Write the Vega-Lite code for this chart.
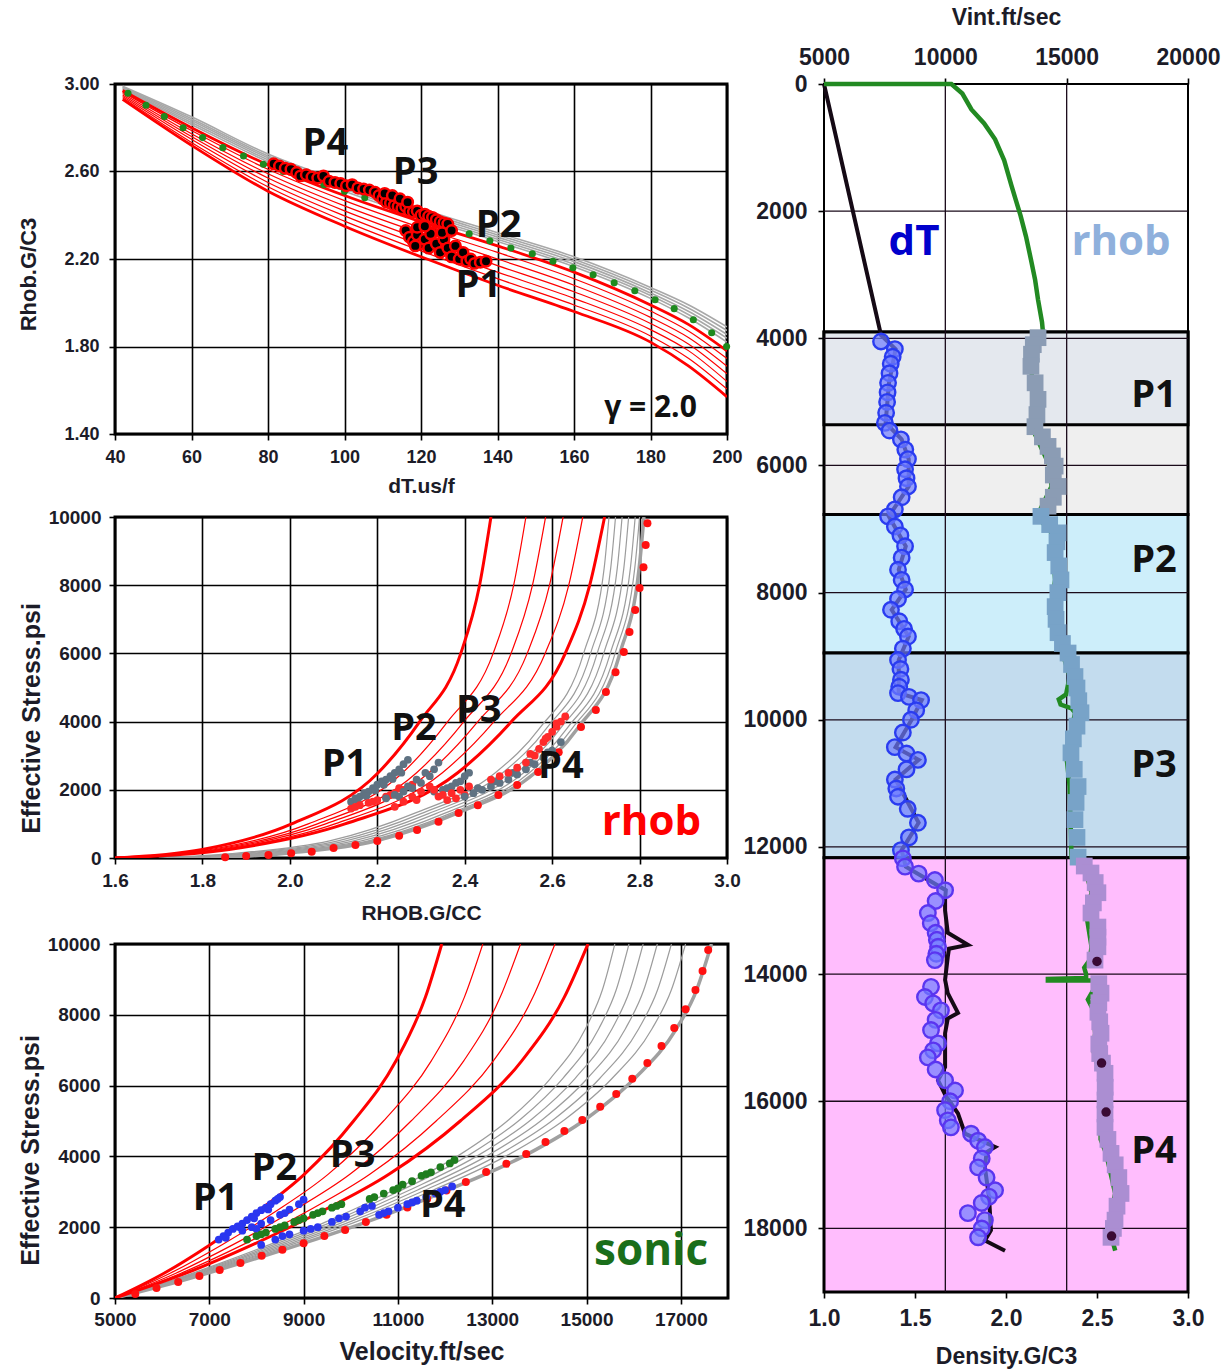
{
"$schema": "https://vega.github.io/schema/vega-lite/v6.json",
"background": "white",
"padding": {"left": 15, "top": 5, "right": 2, "bottom": 5},
"datasets": {
"p1_curves": [
{"c":"R0","k":"rt","dt":42,"rho":2.93},{"c":"R0","k":"rt","dt":60,"rho":2.72},{"c":"R0","k":"rt","dt":80,"rho":2.51},{"c":"R0","k":"rt","dt":100,"rho":2.35},{"c":"R0","k":"rt","dt":120,"rho":2.21},{"c":"R0","k":"rt","dt":140,"rho":2.08},{"c":"R0","k":"rt","dt":160,"rho":1.96},{"c":"R0","k":"rt","dt":180,"rho":1.82},{"c":"R0","k":"rt","dt":190,"rho":1.71},{"c":"R0","k":"rt","dt":200,"rho":1.57},
{"c":"R1","k":"r","dt":42,"rho":2.937},{"c":"R1","k":"r","dt":60,"rho":2.733},{"c":"R1","k":"r","dt":80,"rho":2.53},{"c":"R1","k":"r","dt":100,"rho":2.373},{"c":"R1","k":"r","dt":120,"rho":2.237},{"c":"R1","k":"r","dt":140,"rho":2.11},{"c":"R1","k":"r","dt":160,"rho":1.99},{"c":"R1","k":"r","dt":180,"rho":1.848},{"c":"R1","k":"r","dt":190,"rho":1.745},{"c":"R1","k":"r","dt":200,"rho":1.605},
{"c":"R2","k":"r","dt":42,"rho":2.943},{"c":"R2","k":"r","dt":60,"rho":2.747},{"c":"R2","k":"r","dt":80,"rho":2.55},{"c":"R2","k":"r","dt":100,"rho":2.397},{"c":"R2","k":"r","dt":120,"rho":2.263},{"c":"R2","k":"r","dt":140,"rho":2.14},{"c":"R2","k":"r","dt":160,"rho":2.02},{"c":"R2","k":"r","dt":180,"rho":1.877},{"c":"R2","k":"r","dt":190,"rho":1.78},{"c":"R2","k":"r","dt":200,"rho":1.64},
{"c":"R3","k":"r","dt":42,"rho":2.95},{"c":"R3","k":"r","dt":60,"rho":2.76},{"c":"R3","k":"r","dt":80,"rho":2.57},{"c":"R3","k":"r","dt":100,"rho":2.42},{"c":"R3","k":"r","dt":120,"rho":2.29},{"c":"R3","k":"r","dt":140,"rho":2.17},{"c":"R3","k":"r","dt":160,"rho":2.05},{"c":"R3","k":"r","dt":180,"rho":1.905},{"c":"R3","k":"r","dt":190,"rho":1.81},{"c":"R3","k":"r","dt":200,"rho":1.675},
{"c":"R4","k":"r","dt":42,"rho":2.957},{"c":"R4","k":"r","dt":60,"rho":2.773},{"c":"R4","k":"r","dt":80,"rho":2.59},{"c":"R4","k":"r","dt":100,"rho":2.443},{"c":"R4","k":"r","dt":120,"rho":2.317},{"c":"R4","k":"r","dt":140,"rho":2.2},{"c":"R4","k":"r","dt":160,"rho":2.08},{"c":"R4","k":"r","dt":180,"rho":1.933},{"c":"R4","k":"r","dt":190,"rho":1.84},{"c":"R4","k":"r","dt":200,"rho":1.71},
{"c":"R5","k":"r","dt":42,"rho":2.963},{"c":"R5","k":"r","dt":60,"rho":2.787},{"c":"R5","k":"r","dt":80,"rho":2.61},{"c":"R5","k":"r","dt":100,"rho":2.467},{"c":"R5","k":"r","dt":120,"rho":2.343},{"c":"R5","k":"r","dt":140,"rho":2.23},{"c":"R5","k":"r","dt":160,"rho":2.11},{"c":"R5","k":"r","dt":180,"rho":1.962},{"c":"R5","k":"r","dt":190,"rho":1.87},{"c":"R5","k":"r","dt":200,"rho":1.745},
{"c":"R6","k":"rt","dt":42,"rho":2.97},{"c":"R6","k":"rt","dt":60,"rho":2.8},{"c":"R6","k":"rt","dt":80,"rho":2.63},{"c":"R6","k":"rt","dt":100,"rho":2.49},{"c":"R6","k":"rt","dt":120,"rho":2.37},{"c":"R6","k":"rt","dt":140,"rho":2.26},{"c":"R6","k":"rt","dt":160,"rho":2.14},{"c":"R6","k":"rt","dt":180,"rho":1.99},{"c":"R6","k":"rt","dt":190,"rho":1.9},{"c":"R6","k":"rt","dt":200,"rho":1.78},
{"c":"G0","k":"g","dt":42,"rho":2.975},{"c":"G0","k":"g","dt":60,"rho":2.815},{"c":"G0","k":"g","dt":80,"rho":2.645},{"c":"G0","k":"g","dt":100,"rho":2.51},{"c":"G0","k":"g","dt":120,"rho":2.39},{"c":"G0","k":"g","dt":140,"rho":2.28},{"c":"G0","k":"g","dt":160,"rho":2.165},{"c":"G0","k":"g","dt":180,"rho":2.02},{"c":"G0","k":"g","dt":190,"rho":1.93},{"c":"G0","k":"g","dt":200,"rho":1.82},
{"c":"G1","k":"g","dt":42,"rho":2.979},{"c":"G1","k":"g","dt":60,"rho":2.824},{"c":"G1","k":"g","dt":80,"rho":2.654},{"c":"G1","k":"g","dt":100,"rho":2.52},{"c":"G1","k":"g","dt":120,"rho":2.4},{"c":"G1","k":"g","dt":140,"rho":2.29},{"c":"G1","k":"g","dt":160,"rho":2.176},{"c":"G1","k":"g","dt":180,"rho":2.033},{"c":"G1","k":"g","dt":190,"rho":1.945},{"c":"G1","k":"g","dt":200,"rho":1.838},
{"c":"G2","k":"g","dt":42,"rho":2.983},{"c":"G2","k":"g","dt":60,"rho":2.833},{"c":"G2","k":"g","dt":80,"rho":2.663},{"c":"G2","k":"g","dt":100,"rho":2.53},{"c":"G2","k":"g","dt":120,"rho":2.41},{"c":"G2","k":"g","dt":140,"rho":2.3},{"c":"G2","k":"g","dt":160,"rho":2.188},{"c":"G2","k":"g","dt":180,"rho":2.045},{"c":"G2","k":"g","dt":190,"rho":1.96},{"c":"G2","k":"g","dt":200,"rho":1.855},
{"c":"G3","k":"g","dt":42,"rho":2.986},{"c":"G3","k":"g","dt":60,"rho":2.841},{"c":"G3","k":"g","dt":80,"rho":2.671},{"c":"G3","k":"g","dt":100,"rho":2.54},{"c":"G3","k":"g","dt":120,"rho":2.42},{"c":"G3","k":"g","dt":140,"rho":2.31},{"c":"G3","k":"g","dt":160,"rho":2.199},{"c":"G3","k":"g","dt":180,"rho":2.058},{"c":"G3","k":"g","dt":190,"rho":1.975},{"c":"G3","k":"g","dt":200,"rho":1.873},
{"c":"G4","k":"g","dt":42,"rho":2.99},{"c":"G4","k":"g","dt":60,"rho":2.85},{"c":"G4","k":"g","dt":80,"rho":2.68},{"c":"G4","k":"g","dt":100,"rho":2.55},{"c":"G4","k":"g","dt":120,"rho":2.43},{"c":"G4","k":"g","dt":140,"rho":2.32},{"c":"G4","k":"g","dt":160,"rho":2.21},{"c":"G4","k":"g","dt":180,"rho":2.07},{"c":"G4","k":"g","dt":190,"rho":1.99},{"c":"G4","k":"g","dt":200,"rho":1.89}
],
"p1_green": [
{"dt":43.4,"rho":2.958},{"dt":48.1,"rho":2.903},{"dt":52.9,"rho":2.851},{"dt":57.8,"rho":2.8},{"dt":62.9,"rho":2.755},{"dt":68.2,"rho":2.709},{"dt":73.6,"rho":2.671},{"dt":78.8,"rho":2.633},{"dt":84,"rho":2.6},{"dt":89.3,"rho":2.57},{"dt":94.6,"rho":2.54},{"dt":100,"rho":2.51},{"dt":105.3,"rho":2.48},{"dt":110.7,"rho":2.45},{"dt":116,"rho":2.42},{"dt":121.4,"rho":2.39},{"dt":126.9,"rho":2.355},{"dt":132.6,"rho":2.315},{"dt":138,"rho":2.283},{"dt":143.5,"rho":2.25},{"dt":149.1,"rho":2.224},{"dt":154.5,"rho":2.19},{"dt":159.7,"rho":2.16},{"dt":165,"rho":2.128},{"dt":170.5,"rho":2.091},{"dt":175.9,"rho":2.055},{"dt":181.2,"rho":2.014},{"dt":186.2,"rho":1.973},{"dt":191.2,"rho":1.922},{"dt":196,"rho":1.863},{"dt":199.9,"rho":1.8}
],
"p1_pts": [
{"dt":81.5,"rho":2.635},{"dt":83,"rho":2.625},{"dt":84.5,"rho":2.615},{"dt":86,"rho":2.61},{"dt":87.5,"rho":2.595},{"dt":88.5,"rho":2.58},{"dt":90,"rho":2.585},{"dt":91.5,"rho":2.575},{"dt":93,"rho":2.57},{"dt":94.5,"rho":2.58},{"dt":96,"rho":2.555},{"dt":97.5,"rho":2.55},{"dt":99,"rho":2.545},{"dt":100.5,"rho":2.535},{"dt":102,"rho":2.54},{"dt":103.5,"rho":2.525},{"dt":105,"rho":2.52},{"dt":106.5,"rho":2.515},{"dt":108,"rho":2.505},{"dt":109,"rho":2.49},{"dt":110,"rho":2.475},{"dt":111,"rho":2.46},{"dt":112,"rho":2.455},{"dt":113,"rho":2.445},{"dt":114,"rho":2.44},{"dt":115,"rho":2.43},{"dt":116,"rho":2.44},{"dt":117,"rho":2.42},{"dt":118,"rho":2.415},{"dt":119,"rho":2.42},{"dt":120,"rho":2.4},{"dt":121,"rho":2.405},{"dt":122,"rho":2.395},{"dt":123,"rho":2.39},{"dt":124,"rho":2.38},{"dt":125,"rho":2.37},{"dt":126,"rho":2.365},{"dt":127,"rho":2.36},{"dt":110.5,"rho":2.5},{"dt":112.5,"rho":2.49},{"dt":114.5,"rho":2.475},{"dt":116.5,"rho":2.46},
{"dt":116,"rho":2.33},{"dt":117,"rho":2.3},{"dt":118,"rho":2.28},{"dt":119,"rho":2.31},{"dt":120,"rho":2.27},{"dt":121,"rho":2.29},{"dt":122,"rho":2.25},{"dt":123,"rho":2.32},{"dt":124,"rho":2.27},{"dt":125,"rho":2.23},{"dt":126,"rho":2.29},{"dt":127,"rho":2.25},{"dt":128,"rho":2.21},{"dt":129,"rho":2.26},{"dt":130,"rho":2.2},{"dt":131,"rho":2.23},{"dt":132,"rho":2.19},{"dt":133,"rho":2.2},{"dt":134,"rho":2.18},{"dt":135.5,"rho":2.185},{"dt":137,"rho":2.19},{"dt":118.5,"rho":2.26},{"dt":122.5,"rho":2.315},{"dt":125.5,"rho":2.32},{"dt":128,"rho":2.33},{"dt":119,"rho":2.345},{"dt":121,"rho":2.35}
],
"p1_text": [
{"label":"P4","dt":95,"rho":2.726},{"label":"P3","dt":118.6,"rho":2.594},{"label":"P2","dt":140.3,"rho":2.352},{"label":"P1","dt":135,"rho":2.078}
],
"p2_curves": [
{"c":"A","k":"rt","sig":0,"rho":1.6},{"c":"A","k":"rt","sig":250,"rho":1.8},{"c":"A","k":"rt","sig":1000,"rho":2.004},{"c":"A","k":"rt","sig":2500,"rho":2.202},{"c":"A","k":"rt","sig":4000,"rho":2.297},{"c":"A","k":"rt","sig":6000,"rho":2.391},{"c":"A","k":"rt","sig":8000,"rho":2.434},{"c":"A","k":"rt","sig":10000,"rho":2.46},
{"c":"B","k":"r","sig":0,"rho":1.6},{"c":"B","k":"r","sig":250,"rho":1.819},{"c":"B","k":"r","sig":1000,"rho":2.042},{"c":"B","k":"r","sig":2500,"rho":2.258},{"c":"B","k":"r","sig":4000,"rho":2.361},{"c":"B","k":"r","sig":6000,"rho":2.465},{"c":"B","k":"r","sig":8000,"rho":2.512},{"c":"B","k":"r","sig":10000,"rho":2.54},
{"c":"C","k":"r","sig":0,"rho":1.6},{"c":"C","k":"r","sig":250,"rho":1.83},{"c":"C","k":"r","sig":1000,"rho":2.063},{"c":"C","k":"r","sig":2500,"rho":2.29},{"c":"C","k":"r","sig":4000,"rho":2.398},{"c":"C","k":"r","sig":6000,"rho":2.506},{"c":"C","k":"r","sig":8000,"rho":2.555},{"c":"C","k":"r","sig":10000,"rho":2.585},
{"c":"C2","k":"r","sig":0,"rho":1.6},{"c":"C2","k":"r","sig":250,"rho":1.839},{"c":"C2","k":"r","sig":1000,"rho":2.082},{"c":"C2","k":"r","sig":2500,"rho":2.318},{"c":"C2","k":"r","sig":4000,"rho":2.43},{"c":"C2","k":"r","sig":6000,"rho":2.543},{"c":"C2","k":"r","sig":8000,"rho":2.594},{"c":"C2","k":"r","sig":10000,"rho":2.625},
{"c":"D","k":"r","sig":0,"rho":1.6},{"c":"D","k":"r","sig":250,"rho":1.849},{"c":"D","k":"r","sig":1000,"rho":2.103},{"c":"D","k":"r","sig":2500,"rho":2.349},{"c":"D","k":"r","sig":4000,"rho":2.467},{"c":"D","k":"r","sig":6000,"rho":2.584},{"c":"D","k":"r","sig":8000,"rho":2.638},{"c":"D","k":"r","sig":10000,"rho":2.67},
{"c":"E","k":"rt","sig":0,"rho":1.6},{"c":"E","k":"rt","sig":250,"rho":1.861},{"c":"E","k":"rt","sig":1000,"rho":2.126},{"c":"E","k":"rt","sig":2500,"rho":2.384},{"c":"E","k":"rt","sig":4000,"rho":2.507},{"c":"E","k":"rt","sig":6000,"rho":2.63},{"c":"E","k":"rt","sig":8000,"rho":2.686},{"c":"E","k":"rt","sig":10000,"rho":2.72},
{"c":"G1","k":"g","sig":0,"rho":1.7},{"c":"G1","k":"g","sig":150,"rho":1.885},{"c":"G1","k":"g","sig":500,"rho":2.091},{"c":"G1","k":"g","sig":1300,"rho":2.283},{"c":"G1","k":"g","sig":2500,"rho":2.47},{"c":"G1","k":"g","sig":3800,"rho":2.571},{"c":"G1","k":"g","sig":6000,"rho":2.672},{"c":"G1","k":"g","sig":8500,"rho":2.719},{"c":"G1","k":"g","sig":10000,"rho":2.73},
{"c":"G2","k":"g","sig":0,"rho":1.72},{"c":"G2","k":"g","sig":150,"rho":1.905},{"c":"G2","k":"g","sig":500,"rho":2.11},{"c":"G2","k":"g","sig":1300,"rho":2.3},{"c":"G2","k":"g","sig":2500,"rho":2.487},{"c":"G2","k":"g","sig":3800,"rho":2.587},{"c":"G2","k":"g","sig":6000,"rho":2.688},{"c":"G2","k":"g","sig":8500,"rho":2.734},{"c":"G2","k":"g","sig":10000,"rho":2.745},
{"c":"G3","k":"g","sig":0,"rho":1.74},{"c":"G3","k":"g","sig":150,"rho":1.924},{"c":"G3","k":"g","sig":500,"rho":2.128},{"c":"G3","k":"g","sig":1300,"rho":2.317},{"c":"G3","k":"g","sig":2500,"rho":2.503},{"c":"G3","k":"g","sig":3800,"rho":2.603},{"c":"G3","k":"g","sig":6000,"rho":2.703},{"c":"G3","k":"g","sig":8500,"rho":2.749},{"c":"G3","k":"g","sig":10000,"rho":2.76},
{"c":"G4","k":"g","sig":0,"rho":1.76},{"c":"G4","k":"g","sig":150,"rho":1.943},{"c":"G4","k":"g","sig":500,"rho":2.146},{"c":"G4","k":"g","sig":1300,"rho":2.334},{"c":"G4","k":"g","sig":2500,"rho":2.519},{"c":"G4","k":"g","sig":3800,"rho":2.619},{"c":"G4","k":"g","sig":6000,"rho":2.718},{"c":"G4","k":"g","sig":8500,"rho":2.764},{"c":"G4","k":"g","sig":10000,"rho":2.775},
{"c":"G5","k":"g","sig":0,"rho":1.78},{"c":"G5","k":"g","sig":150,"rho":1.962},{"c":"G5","k":"g","sig":500,"rho":2.164},{"c":"G5","k":"g","sig":1300,"rho":2.352},{"c":"G5","k":"g","sig":2500,"rho":2.535},{"c":"G5","k":"g","sig":3800,"rho":2.634},{"c":"G5","k":"g","sig":6000,"rho":2.733},{"c":"G5","k":"g","sig":8500,"rho":2.779},{"c":"G5","k":"g","sig":10000,"rho":2.79},
{"c":"G6","k":"g","sig":0,"rho":1.8},{"c":"G6","k":"g","sig":150,"rho":1.98},{"c":"G6","k":"g","sig":500,"rho":2.18},{"c":"G6","k":"g","sig":1300,"rho":2.366},{"c":"G6","k":"g","sig":2500,"rho":2.548},{"c":"G6","k":"g","sig":3800,"rho":2.646},{"c":"G6","k":"g","sig":6000,"rho":2.744},{"c":"G6","k":"g","sig":8500,"rho":2.789},{"c":"G6","k":"g","sig":10000,"rho":2.8},
{"c":"G7","k":"gt","sig":0,"rho":1.82},{"c":"G7","k":"gt","sig":150,"rho":1.998},{"c":"G7","k":"gt","sig":500,"rho":2.196},{"c":"G7","k":"gt","sig":1300,"rho":2.38},{"c":"G7","k":"gt","sig":2500,"rho":2.561},{"c":"G7","k":"gt","sig":3800,"rho":2.658},{"c":"G7","k":"gt","sig":6000,"rho":2.755},{"c":"G7","k":"gt","sig":8500,"rho":2.799},{"c":"G7","k":"gt","sig":10000,"rho":2.81}
],
"p2_dots": [
{"rho":1.852,"sig":20},{"rho":1.9,"sig":60},{"rho":1.951,"sig":90},{"rho":2.003,"sig":140},{"rho":2.05,"sig":180},{"rho":2.1,"sig":290},{"rho":2.15,"sig":380},{"rho":2.2,"sig":500},{"rho":2.25,"sig":650},{"rho":2.291,"sig":820},{"rho":2.34,"sig":1060},{"rho":2.386,"sig":1320},{"rho":2.43,"sig":1550},{"rho":2.477,"sig":1850},{"rho":2.52,"sig":2140},{"rho":2.568,"sig":2520},{"rho":2.615,"sig":3100},{"rho":2.666,"sig":3840},{"rho":2.7,"sig":4340},{"rho":2.723,"sig":4870},{"rho":2.745,"sig":5450},{"rho":2.764,"sig":6040},{"rho":2.777,"sig":6630},{"rho":2.79,"sig":7270},{"rho":2.8,"sig":7920},{"rho":2.809,"sig":8530},{"rho":2.814,"sig":9180},{"rho":2.818,"sig":9820}
],
"p2_pts": [
{"g":"grey","rho":2.14,"sig":1650},{"g":"grey","rho":2.15,"sig":1750},{"g":"grey","rho":2.16,"sig":1800},{"g":"grey","rho":2.17,"sig":1900},{"g":"grey","rho":2.18,"sig":1950},{"g":"grey","rho":2.19,"sig":2050},{"g":"grey","rho":2.2,"sig":2150},{"g":"grey","rho":2.21,"sig":2250},{"g":"grey","rho":2.22,"sig":2300},{"g":"grey","rho":2.23,"sig":2400},{"g":"grey","rho":2.24,"sig":2500},{"g":"grey","rho":2.25,"sig":2600},{"g":"grey","rho":2.26,"sig":2750},{"g":"grey","rho":2.27,"sig":2880},{"g":"grey","rho":2.155,"sig":1680},{"g":"grey","rho":2.175,"sig":1820},{"g":"grey","rho":2.195,"sig":1980},{"g":"grey","rho":2.215,"sig":2150},{"g":"grey","rho":2.235,"sig":2320},{"g":"grey","rho":2.255,"sig":2500},
{"g":"red","rho":2.14,"sig":1450},{"g":"red","rho":2.16,"sig":1550},{"g":"red","rho":2.18,"sig":1620},{"g":"red","rho":2.2,"sig":1700},{"g":"red","rho":2.22,"sig":1800},{"g":"red","rho":2.24,"sig":1900},{"g":"red","rho":2.26,"sig":2000},{"g":"red","rho":2.28,"sig":2150},{"g":"red","rho":2.15,"sig":1500},{"g":"red","rho":2.19,"sig":1650},{"g":"red","rho":2.23,"sig":1850},{"g":"red","rho":2.25,"sig":2050},
{"g":"grey","rho":2.22,"sig":1750},{"g":"grey","rho":2.24,"sig":1850},{"g":"grey","rho":2.26,"sig":1950},{"g":"grey","rho":2.28,"sig":2050},{"g":"grey","rho":2.3,"sig":2200},{"g":"grey","rho":2.32,"sig":2400},{"g":"grey","rho":2.33,"sig":2600},{"g":"grey","rho":2.34,"sig":2800},{"g":"grey","rho":2.29,"sig":2300},{"g":"grey","rho":2.31,"sig":2500},{"g":"grey","rho":2.25,"sig":1800},{"g":"grey","rho":2.27,"sig":2100},
{"g":"red","rho":2.24,"sig":1500},{"g":"red","rho":2.26,"sig":1650},{"g":"red","rho":2.28,"sig":1800},{"g":"red","rho":2.3,"sig":1950},{"g":"red","rho":2.32,"sig":2100},{"g":"red","rho":2.29,"sig":1700},{"g":"red","rho":2.33,"sig":2000},
{"g":"grey","rho":2.33,"sig":1950},{"g":"grey","rho":2.35,"sig":2000},{"g":"grey","rho":2.37,"sig":2100},{"g":"grey","rho":2.39,"sig":2250},{"g":"grey","rho":2.4,"sig":2400},{"g":"grey","rho":2.36,"sig":2050},{"g":"grey","rho":2.38,"sig":2200},{"g":"grey","rho":2.41,"sig":2500},
{"g":"red","rho":2.34,"sig":1800},{"g":"red","rho":2.36,"sig":1700},{"g":"red","rho":2.38,"sig":1750},{"g":"red","rho":2.4,"sig":1850},{"g":"red","rho":2.37,"sig":1900},{"g":"red","rho":2.39,"sig":2000},{"g":"red","rho":2.35,"sig":1850},{"g":"red","rho":2.41,"sig":2100},{"g":"red","rho":2.33,"sig":2000},
{"g":"grey","rho":2.4,"sig":1800},{"g":"grey","rho":2.42,"sig":1900},{"g":"grey","rho":2.44,"sig":2000},{"g":"grey","rho":2.46,"sig":2100},{"g":"grey","rho":2.48,"sig":2200},{"g":"grey","rho":2.5,"sig":2300},{"g":"grey","rho":2.52,"sig":2450},{"g":"grey","rho":2.54,"sig":2600},{"g":"grey","rho":2.56,"sig":2750},{"g":"grey","rho":2.58,"sig":2950},{"g":"grey","rho":2.6,"sig":3150},{"g":"grey","rho":2.62,"sig":3400},{"g":"grey","rho":2.43,"sig":2050},{"g":"grey","rho":2.47,"sig":2250},{"g":"grey","rho":2.51,"sig":2500},{"g":"grey","rho":2.55,"sig":2800},{"g":"grey","rho":2.59,"sig":3100},
{"g":"red","rho":2.46,"sig":2300},{"g":"red","rho":2.48,"sig":2400},{"g":"red","rho":2.5,"sig":2500},{"g":"red","rho":2.52,"sig":2650},{"g":"red","rho":2.54,"sig":2800},{"g":"red","rho":2.56,"sig":3000},{"g":"red","rho":2.57,"sig":3200},{"g":"red","rho":2.58,"sig":3400},{"g":"red","rho":2.59,"sig":3550},{"g":"red","rho":2.6,"sig":3700},{"g":"red","rho":2.61,"sig":3850},{"g":"red","rho":2.62,"sig":4000},{"g":"red","rho":2.63,"sig":4150},{"g":"red","rho":2.55,"sig":3050},{"g":"red","rho":2.585,"sig":3500},{"g":"red","rho":2.61,"sig":3950}
],
"p2_text": [
{"label":"P1","rho":2.125,"sig":2730},{"label":"P2","rho":2.284,"sig":3780},{"label":"P3","rho":2.432,"sig":4310},{"label":"P4","rho":2.62,"sig":2670}
],
"p3_curves": [
{"c":"R1","k":"rt","sig":0,"vel":5000},{"c":"R1","k":"rt","sig":700,"vel":6040},{"c":"R1","k":"rt","sig":1500,"vel":7010},{"c":"R1","k":"rt","sig":2400,"vel":7980},{"c":"R1","k":"rt","sig":3500,"vel":9019},{"c":"R1","k":"rt","sig":5000,"vel":10059},{"c":"R1","k":"rt","sig":6700,"vel":10960},{"c":"R1","k":"rt","sig":8500,"vel":11584},{"c":"R1","k":"rt","sig":10000,"vel":11930},
{"c":"R2","k":"r","sig":0,"vel":5000},{"c":"R2","k":"r","sig":700,"vel":6170},{"c":"R2","k":"r","sig":1500,"vel":7262},{"c":"R2","k":"r","sig":2400,"vel":8354},{"c":"R2","k":"r","sig":3500,"vel":9524},{"c":"R2","k":"r","sig":5000,"vel":10694},{"c":"R2","k":"r","sig":6700,"vel":11708},{"c":"R2","k":"r","sig":8500,"vel":12410},{"c":"R2","k":"r","sig":10000,"vel":12800},
{"c":"R3","k":"r","sig":0,"vel":5000},{"c":"R3","k":"r","sig":700,"vel":6290},{"c":"R3","k":"r","sig":1500,"vel":7494},{"c":"R3","k":"r","sig":2400,"vel":8698},{"c":"R3","k":"r","sig":3500,"vel":9988},{"c":"R3","k":"r","sig":5000,"vel":11278},{"c":"R3","k":"r","sig":6700,"vel":12396},{"c":"R3","k":"r","sig":8500,"vel":13170},{"c":"R3","k":"r","sig":10000,"vel":13600},
{"c":"R4","k":"r","sig":0,"vel":5000},{"c":"R4","k":"r","sig":700,"vel":6400},{"c":"R4","k":"r","sig":1500,"vel":7706},{"c":"R4","k":"r","sig":2400,"vel":9012},{"c":"R4","k":"r","sig":3500,"vel":10411},{"c":"R4","k":"r","sig":5000,"vel":11811},{"c":"R4","k":"r","sig":6700,"vel":13024},{"c":"R4","k":"r","sig":8500,"vel":13864},{"c":"R4","k":"r","sig":10000,"vel":14330},
{"c":"R5","k":"rt","sig":0,"vel":5000},{"c":"R5","k":"rt","sig":700,"vel":6505},{"c":"R5","k":"rt","sig":1500,"vel":7909},{"c":"R5","k":"rt","sig":2400,"vel":9313},{"c":"R5","k":"rt","sig":3500,"vel":10817},{"c":"R5","k":"rt","sig":5000,"vel":12322},{"c":"R5","k":"rt","sig":6700,"vel":13626},{"c":"R5","k":"rt","sig":8500,"vel":14529},{"c":"R5","k":"rt","sig":10000,"vel":15030},
{"c":"G1","k":"g","sig":0,"vel":5000},{"c":"G1","k":"g","sig":500,"vel":6208},{"c":"G1","k":"g","sig":1000,"vel":7268},{"c":"G1","k":"g","sig":1550,"vel":8360},{"c":"G1","k":"g","sig":2150,"vel":9473},{"c":"G1","k":"g","sig":3050,"vel":10915},{"c":"G1","k":"g","sig":4050,"vel":12314},{"c":"G1","k":"g","sig":5050,"vel":13363},{"c":"G1","k":"g","sig":6200,"vel":14233},{"c":"G1","k":"g","sig":7600,"vel":14975},{"c":"G1","k":"g","sig":8700,"vel":15335},{"c":"G1","k":"g","sig":10000,"vel":15600},
{"c":"G2","k":"g","sig":0,"vel":5000},{"c":"G2","k":"g","sig":500,"vel":6243},{"c":"G2","k":"g","sig":1000,"vel":7333},{"c":"G2","k":"g","sig":1550,"vel":8455},{"c":"G2","k":"g","sig":2150,"vel":9600},{"c":"G2","k":"g","sig":3050,"vel":11082},{"c":"G2","k":"g","sig":4050,"vel":12521},{"c":"G2","k":"g","sig":5050,"vel":13600},{"c":"G2","k":"g","sig":6200,"vel":14494},{"c":"G2","k":"g","sig":7600,"vel":15257},{"c":"G2","k":"g","sig":8700,"vel":15628},{"c":"G2","k":"g","sig":10000,"vel":15900},
{"c":"G3","k":"g","sig":0,"vel":5000},{"c":"G3","k":"g","sig":500,"vel":6277},{"c":"G3","k":"g","sig":1000,"vel":7397},{"c":"G3","k":"g","sig":1550,"vel":8550},{"c":"G3","k":"g","sig":2150,"vel":9726},{"c":"G3","k":"g","sig":3050,"vel":11250},{"c":"G3","k":"g","sig":4050,"vel":12728},{"c":"G3","k":"g","sig":5050,"vel":13837},{"c":"G3","k":"g","sig":6200,"vel":14755},{"c":"G3","k":"g","sig":7600,"vel":15539},{"c":"G3","k":"g","sig":8700,"vel":15920},{"c":"G3","k":"g","sig":10000,"vel":16200},
{"c":"G4","k":"g","sig":0,"vel":5000},{"c":"G4","k":"g","sig":500,"vel":6311},{"c":"G4","k":"g","sig":1000,"vel":7461},{"c":"G4","k":"g","sig":1550,"vel":8646},{"c":"G4","k":"g","sig":2150,"vel":9853},{"c":"G4","k":"g","sig":3050,"vel":11417},{"c":"G4","k":"g","sig":4050,"vel":12935},{"c":"G4","k":"g","sig":5050,"vel":14074},{"c":"G4","k":"g","sig":6200,"vel":15017},{"c":"G4","k":"g","sig":7600,"vel":15822},{"c":"G4","k":"g","sig":8700,"vel":16213},{"c":"G4","k":"g","sig":10000,"vel":16500},
{"c":"G5","k":"g","sig":0,"vel":5000},{"c":"G5","k":"g","sig":500,"vel":6345},{"c":"G5","k":"g","sig":1000,"vel":7525},{"c":"G5","k":"g","sig":1550,"vel":8741},{"c":"G5","k":"g","sig":2150,"vel":9980},{"c":"G5","k":"g","sig":3050,"vel":11584},{"c":"G5","k":"g","sig":4050,"vel":13142},{"c":"G5","k":"g","sig":5050,"vel":14310},{"c":"G5","k":"g","sig":6200,"vel":15278},{"c":"G5","k":"g","sig":7600,"vel":16104},{"c":"G5","k":"g","sig":8700,"vel":16505},{"c":"G5","k":"g","sig":10000,"vel":16800},
{"c":"G6","k":"g","sig":0,"vel":5000},{"c":"G6","k":"g","sig":500,"vel":6379},{"c":"G6","k":"g","sig":1000,"vel":7589},{"c":"G6","k":"g","sig":1550,"vel":8836},{"c":"G6","k":"g","sig":2150,"vel":10106},{"c":"G6","k":"g","sig":3050,"vel":11752},{"c":"G6","k":"g","sig":4050,"vel":13349},{"c":"G6","k":"g","sig":5050,"vel":14547},{"c":"G6","k":"g","sig":6200,"vel":15539},{"c":"G6","k":"g","sig":7600,"vel":16386},{"c":"G6","k":"g","sig":8700,"vel":16798},{"c":"G6","k":"g","sig":10000,"vel":17100},
{"c":"G7","k":"gt","sig":0,"vel":5000},{"c":"G7","k":"gt","sig":500,"vel":6442},{"c":"G7","k":"gt","sig":1000,"vel":7707},{"c":"G7","k":"gt","sig":1550,"vel":9010},{"c":"G7","k":"gt","sig":2150,"vel":10338},{"c":"G7","k":"gt","sig":3050,"vel":12059},{"c":"G7","k":"gt","sig":4050,"vel":13729},{"c":"G7","k":"gt","sig":5050,"vel":14981},{"c":"G7","k":"gt","sig":6200,"vel":16018},{"c":"G7","k":"gt","sig":7600,"vel":16904},{"c":"G7","k":"gt","sig":8700,"vel":17334},{"c":"G7","k":"gt","sig":10000,"vel":17650}
],
"p3_dots": [
{"vel":5430,"sig":110},{"vel":5880,"sig":280},{"vel":6340,"sig":450},{"vel":6790,"sig":620},{"vel":7220,"sig":790},{"vel":7660,"sig":990},{"vel":8110,"sig":1190},{"vel":8550,"sig":1360},{"vel":9000,"sig":1550},{"vel":9440,"sig":1750},{"vel":9880,"sig":1920},{"vel":10320,"sig":2150},{"vel":10760,"sig":2350},{"vel":11200,"sig":2560},{"vel":11620,"sig":2800},{"vel":12030,"sig":3040},{"vel":12440,"sig":3280},{"vel":12870,"sig":3560},{"vel":13300,"sig":3790},{"vel":13720,"sig":4070},{"vel":14130,"sig":4410},{"vel":14530,"sig":4720},{"vel":14910,"sig":5030},{"vel":15290,"sig":5400},{"vel":15630,"sig":5760},{"vel":15970,"sig":6190},{"vel":16290,"sig":6640},{"vel":16590,"sig":7120},{"vel":16860,"sig":7630},{"vel":17100,"sig":8160},{"vel":17310,"sig":8700},{"vel":17460,"sig":9240},{"vel":17580,"sig":9830}
],
"p3_pts": [
{"g":"blue","vel":7200,"sig":1650},{"g":"blue","vel":7300,"sig":1750},{"g":"blue","vel":7400,"sig":1850},{"g":"blue","vel":7500,"sig":1950},{"g":"blue","vel":7600,"sig":2020},{"g":"blue","vel":7700,"sig":2100},{"g":"blue","vel":7800,"sig":2200},{"g":"blue","vel":7900,"sig":2300},{"g":"blue","vel":8000,"sig":2400},{"g":"blue","vel":8100,"sig":2480},{"g":"blue","vel":8200,"sig":2550},{"g":"blue","vel":8300,"sig":2650},{"g":"blue","vel":8400,"sig":2750},{"g":"blue","vel":8500,"sig":2850},{"g":"blue","vel":7350,"sig":1700},{"g":"blue","vel":7650,"sig":2000},{"g":"blue","vel":7950,"sig":2250},{"g":"blue","vel":8250,"sig":2500},{"g":"blue","vel":8450,"sig":2800},
{"g":"blue","vel":7700,"sig":1900},{"g":"blue","vel":7900,"sig":2000},{"g":"blue","vel":8100,"sig":2100},{"g":"blue","vel":8300,"sig":2200},{"g":"blue","vel":8500,"sig":2350},{"g":"blue","vel":8700,"sig":2500},{"g":"blue","vel":8900,"sig":2650},{"g":"blue","vel":9000,"sig":2780},{"g":"blue","vel":8000,"sig":1950},{"g":"blue","vel":8600,"sig":2400},
{"g":"green","vel":7800,"sig":1650},{"g":"green","vel":8000,"sig":1750},{"g":"green","vel":8200,"sig":1850},{"g":"green","vel":8400,"sig":1950},{"g":"green","vel":8600,"sig":2050},{"g":"green","vel":8800,"sig":2150},{"g":"green","vel":9000,"sig":2250},{"g":"green","vel":9200,"sig":2350},{"g":"green","vel":9400,"sig":2450},{"g":"green","vel":9600,"sig":2550},{"g":"green","vel":9800,"sig":2650},{"g":"green","vel":8100,"sig":1800},{"g":"green","vel":8500,"sig":2000},{"g":"green","vel":8900,"sig":2200},{"g":"green","vel":9300,"sig":2400},{"g":"green","vel":9700,"sig":2600},
{"g":"blue","vel":8100,"sig":1500},{"g":"blue","vel":8400,"sig":1650},{"g":"blue","vel":8700,"sig":1800},{"g":"blue","vel":9000,"sig":1900},{"g":"blue","vel":9300,"sig":2000},{"g":"blue","vel":9600,"sig":2150},{"g":"blue","vel":9900,"sig":2300},{"g":"blue","vel":10200,"sig":2450},{"g":"blue","vel":10450,"sig":2600},{"g":"blue","vel":8550,"sig":1750},{"g":"blue","vel":9150,"sig":1950},{"g":"blue","vel":9750,"sig":2250},{"g":"blue","vel":10300,"sig":2550},
{"g":"green","vel":10500,"sig":2850},{"g":"green","vel":10700,"sig":2950},{"g":"green","vel":10900,"sig":3050},{"g":"green","vel":11100,"sig":3200},{"g":"green","vel":11300,"sig":3300},{"g":"green","vel":11500,"sig":3450},{"g":"green","vel":11700,"sig":3550},{"g":"green","vel":11900,"sig":3700},{"g":"green","vel":12100,"sig":3800},{"g":"green","vel":12200,"sig":3900},{"g":"green","vel":10400,"sig":2800},{"g":"green","vel":11000,"sig":3100},{"g":"green","vel":11600,"sig":3500},
{"g":"blue","vel":10600,"sig":2350},{"g":"blue","vel":10800,"sig":2450},{"g":"blue","vel":11000,"sig":2550},{"g":"blue","vel":11200,"sig":2650},{"g":"blue","vel":11400,"sig":2750},{"g":"blue","vel":11600,"sig":2850},{"g":"blue","vel":11800,"sig":2950},{"g":"blue","vel":12000,"sig":3050},{"g":"blue","vel":12150,"sig":3150},{"g":"blue","vel":10700,"sig":2400},{"g":"blue","vel":11300,"sig":2700},{"g":"blue","vel":11900,"sig":3000}
],
"p3_text": [
{"label":"P1","vel":7130,"sig":2800},{"label":"P2","vel":8380,"sig":3640},{"label":"P3","vel":10040,"sig":4010},{"label":"P4","vel":11950,"sig":2600}
],
"zones": [
{"zone":"G","depth":3900,"depth_end":6770},{"zone":"P1","depth":3900,"depth_end":5360},{"zone":"P2","depth":6770,"depth_end":8950},{"zone":"P3","depth":8950,"depth_end":12170},{"zone":"P4","depth":12170,"depth_end":19000}
],
"dt_pts": [
{"depth":4050,"vint":7350},{"depth":4170,"vint":7920},{"depth":4290,"vint":7830},{"depth":4400,"vint":7750},{"depth":4550,"vint":7700},{"depth":4700,"vint":7640},{"depth":4850,"vint":7620},{"depth":5000,"vint":7600},{"depth":5170,"vint":7560},{"depth":5330,"vint":7510},{"depth":5450,"vint":7700},{"depth":5590,"vint":8170},{"depth":5750,"vint":8350},{"depth":5900,"vint":8460},{"depth":6060,"vint":8340},{"depth":6200,"vint":8400},{"depth":6330,"vint":8460},{"depth":6500,"vint":8200},{"depth":6690,"vint":7920},{"depth":6800,"vint":7640},{"depth":6960,"vint":7920},{"depth":7100,"vint":8150},{"depth":7270,"vint":8340},{"depth":7450,"vint":8200},{"depth":7640,"vint":8050},{"depth":7800,"vint":8200},{"depth":7950,"vint":8340},{"depth":8100,"vint":8050},{"depth":8270,"vint":7760},{"depth":8450,"vint":8100},{"depth":8570,"vint":8300},{"depth":8690,"vint":8460},{"depth":8880,"vint":8250},{"depth":9060,"vint":8050},{"depth":9200,"vint":8150},{"depth":9370,"vint":8170},{"depth":9480,"vint":8100},{"depth":9580,"vint":8050},{"depth":9640,"vint":8500},{"depth":9690,"vint":9000},{"depth":9850,"vint":8800},{"depth":10000,"vint":8580},{"depth":10200,"vint":8250},{"depth":10430,"vint":7920},{"depth":10530,"vint":8400},{"depth":10630,"vint":8870},{"depth":10780,"vint":8400},{"depth":10940,"vint":7920},{"depth":11080,"vint":7980},{"depth":11210,"vint":8050},{"depth":11400,"vint":8450},{"depth":11620,"vint":8870},{"depth":11850,"vint":8500},{"depth":12050,"vint":8170},{"depth":12180,"vint":8250},{"depth":12310,"vint":8340},{"depth":12420,"vint":8900},{"depth":12520,"vint":9570},{"depth":12680,"vint":9990},{"depth":12850,"vint":9600},{"depth":13040,"vint":9280},{"depth":13200,"vint":9400},{"depth":13350,"vint":9600},{"depth":13460,"vint":9650},{"depth":13570,"vint":9700},{"depth":13680,"vint":9630},{"depth":13780,"vint":9570},{"depth":14200,"vint":9410},{"depth":14360,"vint":9160},{"depth":14460,"vint":9500},{"depth":14570,"vint":9820},{"depth":14720,"vint":9600},{"depth":14880,"vint":9410},{"depth":15090,"vint":9700},{"depth":15200,"vint":9500},{"depth":15310,"vint":9280},{"depth":15500,"vint":9600},{"depth":15670,"vint":9990},{"depth":15830,"vint":10400},{"depth":16000,"vint":10200},{"depth":16140,"vint":9990},{"depth":16300,"vint":10100},{"depth":16410,"vint":10230},{"depth":16510,"vint":11060},{"depth":16620,"vint":11350},{"depth":16720,"vint":11630},{"depth":16900,"vint":11500},{"depth":17040,"vint":11350},{"depth":17200,"vint":11700},{"depth":17400,"vint":12050},{"depth":17500,"vint":11800},{"depth":17600,"vint":11500},{"depth":17760,"vint":10930},{"depth":17870,"vint":11630},{"depth":18000,"vint":11500},{"depth":18140,"vint":11350}
],
"dt_trend": [
{"depth":0,"vint":5000},{"depth":3950,"vint":7350},{"depth":4170,"vint":7950},{"depth":4700,"vint":7680},{"depth":5330,"vint":7540},{"depth":5590,"vint":8200},{"depth":5900,"vint":8490},{"depth":6330,"vint":8490},{"depth":6800,"vint":7670},{"depth":7270,"vint":8370},{"depth":7640,"vint":8080},{"depth":7950,"vint":8370},{"depth":8270,"vint":7790},{"depth":8690,"vint":8490},{"depth":9060,"vint":8080},{"depth":9580,"vint":8080},{"depth":9690,"vint":9030},{"depth":10000,"vint":8610},{"depth":10430,"vint":7950},{"depth":10630,"vint":8900},{"depth":10940,"vint":7950},{"depth":11620,"vint":8900},{"depth":12050,"vint":8200},{"depth":12310,"vint":8370},{"depth":12680,"vint":10020},{"depth":12830,"vint":9990},{"depth":13000,"vint":9990},{"depth":13350,"vint":10100},{"depth":13540,"vint":10930},{"depth":13600,"vint":10150},{"depth":13730,"vint":10100},{"depth":14090,"vint":9990},{"depth":14300,"vint":10100},{"depth":14610,"vint":10520},{"depth":14700,"vint":10100},{"depth":14930,"vint":9990},{"depth":15460,"vint":9990},{"depth":15670,"vint":9700},{"depth":15900,"vint":10000},{"depth":16190,"vint":10520},{"depth":16510,"vint":10810},{"depth":16720,"vint":12050},{"depth":16800,"vint":11700},{"depth":17040,"vint":11630},{"depth":17500,"vint":11800},{"depth":18030,"vint":11880},{"depth":18190,"vint":11630},{"depth":18350,"vint":12460}
],
"rhob_pts": [
{"depth":3990,"dens":2.176},{"depth":4100,"dens":2.15},{"depth":4250,"dens":2.14},{"depth":4440,"dens":2.137},{"depth":4700,"dens":2.16},{"depth":4960,"dens":2.176},{"depth":5200,"dens":2.17},{"depth":5390,"dens":2.159},{"depth":5550,"dens":2.2},{"depth":5700,"dens":2.231},{"depth":5850,"dens":2.255},{"depth":6010,"dens":2.27},{"depth":6150,"dens":2.26},{"depth":6330,"dens":2.286},{"depth":6500,"dens":2.26},{"depth":6640,"dens":2.231},{"depth":6800,"dens":2.192},{"depth":6930,"dens":2.24},{"depth":7060,"dens":2.286},{"depth":7200,"dens":2.28},{"depth":7370,"dens":2.27},{"depth":7580,"dens":2.29},{"depth":7800,"dens":2.302},{"depth":8000,"dens":2.285},{"depth":8220,"dens":2.27},{"depth":8420,"dens":2.275},{"depth":8630,"dens":2.286},{"depth":8800,"dens":2.31},{"depth":8950,"dens":2.341},{"depth":9130,"dens":2.36},{"depth":9320,"dens":2.379},{"depth":9500,"dens":2.39},{"depth":9700,"dens":2.4},{"depth":9890,"dens":2.412},{"depth":10100,"dens":2.39},{"depth":10300,"dens":2.37},{"depth":10520,"dens":2.357},{"depth":10780,"dens":2.375},{"depth":11050,"dens":2.396},{"depth":11300,"dens":2.385},{"depth":11570,"dens":2.379},{"depth":11850,"dens":2.39},{"depth":12160,"dens":2.396},{"depth":12300,"dens":2.43},{"depth":12410,"dens":2.467},{"depth":12560,"dens":2.49},{"depth":12720,"dens":2.505},{"depth":12880,"dens":2.48},{"depth":13040,"dens":2.467},{"depth":13260,"dens":2.505},{"depth":13420,"dens":2.505},{"depth":13570,"dens":2.505},{"depth":13780,"dens":2.489},{"depth":14150,"dens":2.51},{"depth":14300,"dens":2.522},{"depth":14450,"dens":2.51},{"depth":14600,"dens":2.505},{"depth":14750,"dens":2.515},{"depth":14930,"dens":2.522},{"depth":15100,"dens":2.51},{"depth":15250,"dens":2.515},{"depth":15400,"dens":2.53},{"depth":15560,"dens":2.544},{"depth":15780,"dens":2.545},{"depth":15980,"dens":2.544},{"depth":16200,"dens":2.544},{"depth":16410,"dens":2.544},{"depth":16600,"dens":2.56},{"depth":16820,"dens":2.577},{"depth":17000,"dens":2.6},{"depth":17200,"dens":2.62},{"depth":17450,"dens":2.632},{"depth":17650,"dens":2.61},{"depth":17870,"dens":2.599},{"depth":18000,"dens":2.59},{"depth":18140,"dens":2.577}
],
"rhob_trend": [
{"n":1,"depth":0,"dens":1.0},{"n":2,"depth":0,"dens":1.7},{"n":3,"depth":150,"dens":1.76},{"n":4,"depth":400,"dens":1.81},{"n":5,"depth":620,"dens":1.88},{"n":6,"depth":870,"dens":1.94},{"n":7,"depth":1200,"dens":1.99},{"n":8,"depth":1600,"dens":2.03},{"n":9,"depth":2070,"dens":2.08},{"n":10,"depth":2400,"dens":2.11},{"n":11,"depth":2760,"dens":2.137},{"n":12,"depth":3080,"dens":2.16},{"n":13,"depth":3390,"dens":2.176},{"n":14,"depth":3750,"dens":2.198},{"n":15,"depth":3900,"dens":2.203},{"n":16,"depth":3980,"dens":2.15},{"n":17,"depth":4100,"dens":2.12},{"n":18,"depth":4300,"dens":2.125},{"n":19,"depth":4500,"dens":2.14},{"n":20,"depth":4960,"dens":2.15},{"n":21,"depth":5390,"dens":2.14},{"n":22,"depth":6010,"dens":2.24},{"n":23,"depth":6330,"dens":2.25},{"n":24,"depth":6800,"dens":2.17},{"n":25,"depth":7060,"dens":2.25},{"n":26,"depth":7800,"dens":2.27},{"n":27,"depth":8220,"dens":2.25},{"n":28,"depth":8950,"dens":2.31},{"n":29,"depth":9320,"dens":2.35},{"n":30,"depth":9600,"dens":2.33},{"n":31,"depth":9680,"dens":2.29},{"n":32,"depth":9760,"dens":2.3},{"n":33,"depth":9820,"dens":2.36},{"n":34,"depth":9890,"dens":2.38},{"n":35,"depth":10520,"dens":2.33},{"n":36,"depth":11050,"dens":2.35},{"n":37,"depth":12160,"dens":2.36},{"n":38,"depth":12410,"dens":2.44},{"n":39,"depth":12720,"dens":2.47},{"n":40,"depth":13040,"dens":2.44},{"n":41,"depth":13570,"dens":2.47},{"n":42,"depth":13780,"dens":2.46},{"n":43,"depth":13900,"dens":2.43},{"n":44,"depth":14000,"dens":2.44},{"n":45,"depth":14060,"dens":2.44},{"n":46,"depth":14075,"dens":2.23},{"n":47,"depth":14100,"dens":2.23},{"n":48,"depth":14100,"dens":2.49},{"n":49,"depth":14200,"dens":2.49},{"n":50,"depth":14400,"dens":2.45},{"n":51,"depth":14570,"dens":2.48},{"n":52,"depth":14930,"dens":2.49},{"n":53,"depth":15200,"dens":2.48},{"n":54,"depth":15560,"dens":2.515},{"n":55,"depth":16200,"dens":2.52},{"n":56,"depth":16600,"dens":2.52},{"n":57,"depth":16820,"dens":2.55},{"n":58,"depth":17450,"dens":2.6},{"n":59,"depth":17870,"dens":2.57},{"n":60,"depth":18140,"dens":2.58},{"n":61,"depth":18350,"dens":2.6}
],
"rhob_dark": [
{"depth":13800,"dens":2.5},{"depth":15400,"dens":2.525},{"depth":16170,"dens":2.55},{"depth":18120,"dens":2.58}
],
"right_text": [
{"label":"P1","vint":18600,"depth":4910},{"label":"P2","vint":18600,"depth":7510},{"label":"P3","vint":18600,"depth":10720},{"label":"P4","vint":18600,"depth":16800}
]
},
"resolve": {"scale": {"color": "independent", "stroke": "independent"}},
"hconcat": [
{
"resolve": {"scale": {"color": "independent"}},
"vconcat": [
{
"width": 612, "height": 350,
"encoding": {
"x": {"field": "dt", "type": "quantitative", "scale": {"domain": [40, 200], "nice": false, "zero": false}, "axis": {"title": "dT.us/f", "values": [40,60,80,100,120,140,160,180,200], "labelFontSize": 18, "labelPadding": 8, "titleFontSize": 21, "titleY": 52, "titleBaseline": "middle"}},
"y": {"field": "rho", "type": "quantitative", "scale": {"domain": [1.4, 3.0], "nice": false, "zero": false}, "axis": {"title": "Rhob.G/C3", "values": [1.4,1.8,2.2,2.6,3.0], "format": ".2f", "labelFontSize": 18, "labelPadding": 10, "titleFontSize": 22, "titleX": -87, "titleY": 190, "titleBaseline": "middle", "titleAngle": 270}}
},
"layer": [
{"data": {"name": "p1_curves"}, "transform": [{"filter": "datum.k == 'g'"}], "mark": {"type": "line", "interpolate": "monotone", "color": "#a8a8a8", "strokeWidth": 1.6, "clip": true}, "encoding": {"detail": {"field": "c"}}},
{"data": {"name": "p1_curves"}, "transform": [{"filter": "datum.k == 'r'"}], "mark": {"type": "line", "interpolate": "monotone", "color": "#ff0000", "strokeWidth": 1.2, "clip": true}, "encoding": {"detail": {"field": "c"}}},
{"data": {"name": "p1_curves"}, "transform": [{"filter": "datum.k == 'rt'"}], "mark": {"type": "line", "interpolate": "monotone", "color": "#ff0000", "strokeWidth": 2.8, "clip": true}, "encoding": {"detail": {"field": "c"}}},
{"data": {"name": "p1_green"}, "mark": {"type": "point", "shape": "circle", "filled": true, "color": "#1e8a1e", "size": 50, "opacity": 1}},
{"data": {"name": "p1_pts"}, "mark": {"type": "point", "shape": "circle", "filled": true, "fill": "#000000", "stroke": "#ff0000", "strokeWidth": 2.5, "size": 110, "opacity": 1}},
{"data": {"name": "p1_text"}, "mark": {"type": "text", "font": "Open Sans", "fontWeight": "bold", "fontSize": 38, "color": "#111111"}, "encoding": {"text": {"field": "label"}}},
{"data": {"values": [{"label": "γ = 2.0", "dt": 180, "rho": 1.52}]}, "mark": {"type": "text", "font": "Open Sans", "fontWeight": "bold", "fontSize": 30, "color": "#111111"}, "encoding": {"text": {"field": "label"}}}
]
},
{
"width": 612, "height": 341,
"encoding": {
"x": {"field": "rho", "type": "quantitative", "scale": {"domain": [1.6, 3.0], "nice": false, "zero": false}, "axis": {"title": "RHOB.G/CC", "values": [1.6,1.8,2.0,2.2,2.4,2.6,2.8,3.0], "format": ".1f", "labelFontSize": 19, "labelPadding": 7, "titleFontSize": 21, "titleY": 55, "titleBaseline": "middle"}},
"y": {"field": "sig", "type": "quantitative", "scale": {"domain": [0, 10000], "nice": false}, "axis": {"title": "Effective  Stress.psi", "values": [0,2000,4000,6000,8000,10000], "format": "d", "labelFontSize": 19, "labelPadding": 8, "titleFontSize": 25, "titleX": -84, "titleY": 201, "titleBaseline": "middle", "titleAngle": 270}}
},
"layer": [
{"data": {"name": "p2_curves"}, "transform": [{"filter": "datum.k == 'g'"}], "mark": {"type": "line", "interpolate": "monotone", "color": "#9c9c9c", "strokeWidth": 1.2, "clip": true}, "encoding": {"detail": {"field": "c"}}},
{"data": {"name": "p2_curves"}, "transform": [{"filter": "datum.k == 'gt'"}], "mark": {"type": "line", "interpolate": "monotone", "color": "#a0a0a0", "strokeWidth": 3.5, "clip": true}, "encoding": {"detail": {"field": "c"}}},
{"data": {"name": "p2_curves"}, "transform": [{"filter": "datum.k == 'r'"}], "mark": {"type": "line", "interpolate": "monotone", "color": "#ff0000", "strokeWidth": 1.2, "clip": true}, "encoding": {"detail": {"field": "c"}}},
{"data": {"name": "p2_curves"}, "transform": [{"filter": "datum.k == 'rt'"}], "mark": {"type": "line", "interpolate": "monotone", "color": "#ff0000", "strokeWidth": 3, "clip": true}, "encoding": {"detail": {"field": "c"}}},
{"data": {"name": "p2_dots"}, "mark": {"type": "point", "shape": "circle", "filled": true, "color": "#ff1010", "size": 64, "opacity": 1}},
{"data": {"name": "p2_pts"}, "mark": {"type": "point", "shape": "circle", "filled": true, "size": 60, "opacity": 1}, "encoding": {"color": {"field": "g", "type": "nominal", "scale": {"domain": ["grey", "red"], "range": ["#5f7282", "#ff2a2a"]}, "legend": null}}},
{"data": {"name": "p2_text"}, "mark": {"type": "text", "font": "Open Sans", "fontWeight": "bold", "fontSize": 38, "color": "#111111"}, "encoding": {"text": {"field": "label"}}},
{"data": {"values": [{"label": "rhob", "rho": 2.827, "sig": 1060}]}, "mark": {"type": "text", "font": "Open Sans", "fontWeight": "bold", "fontSize": 42, "color": "#ff0000"}, "encoding": {"text": {"field": "label"}}}
]
},
{
"width": 613, "height": 354,
"encoding": {
"x": {"field": "vel", "type": "quantitative", "scale": {"domain": [5000, 18000], "nice": false, "zero": false}, "axis": {"title": "Velocity.ft/sec", "values": [5000,7000,9000,11000,13000,15000,17000], "format": "d", "labelFontSize": 19, "labelPadding": 6, "titleFontSize": 25, "titleY": 53, "titleBaseline": "middle"}},
"y": {"field": "sig", "type": "quantitative", "scale": {"domain": [0, 10000], "nice": false}, "axis": {"title": "Effective  Stress.psi", "values": [0,2000,4000,6000,8000,10000], "format": "d", "labelFontSize": 19, "labelPadding": 9, "titleFontSize": 25, "titleX": -85, "titleY": 206, "titleBaseline": "middle", "titleAngle": 270}}
},
"layer": [
{"data": {"name": "p3_curves"}, "transform": [{"filter": "datum.k == 'g'"}], "mark": {"type": "line", "interpolate": "monotone", "color": "#9c9c9c", "strokeWidth": 1.2, "clip": true}, "encoding": {"detail": {"field": "c"}}},
{"data": {"name": "p3_curves"}, "transform": [{"filter": "datum.k == 'gt'"}], "mark": {"type": "line", "interpolate": "monotone", "color": "#a0a0a0", "strokeWidth": 3.5, "clip": true}, "encoding": {"detail": {"field": "c"}}},
{"data": {"name": "p3_curves"}, "transform": [{"filter": "datum.k == 'r'"}], "mark": {"type": "line", "interpolate": "monotone", "color": "#ff0000", "strokeWidth": 1.2, "clip": true}, "encoding": {"detail": {"field": "c"}}},
{"data": {"name": "p3_curves"}, "transform": [{"filter": "datum.k == 'rt'"}], "mark": {"type": "line", "interpolate": "monotone", "color": "#ff0000", "strokeWidth": 3, "clip": true}, "encoding": {"detail": {"field": "c"}}},
{"data": {"name": "p3_dots"}, "mark": {"type": "point", "shape": "circle", "filled": true, "color": "#ff1010", "size": 64, "opacity": 1}},
{"data": {"name": "p3_pts"}, "mark": {"type": "point", "shape": "circle", "filled": true, "size": 60, "opacity": 1}, "encoding": {"color": {"field": "g", "type": "nominal", "scale": {"domain": ["blue", "green"], "range": ["#2a36f0", "#1e7d1e"]}, "legend": null}}},
{"data": {"name": "p3_text"}, "mark": {"type": "text", "font": "Open Sans", "fontWeight": "bold", "fontSize": 38, "color": "#111111"}, "encoding": {"text": {"field": "label"}}},
{"data": {"values": [{"label": "sonic", "vel": 16370, "sig": 1300}]}, "mark": {"type": "text", "font": "Open Sans", "fontWeight": "bold", "fontSize": 44, "color": "#1a6e1a"}, "encoding": {"text": {"field": "label"}}}
]
}
],
"spacing": 8
},
{
"width": 364, "height": 1208,
"view": {"stroke": "black", "strokeWidth": 2},
"resolve": {"scale": {"x": "independent"}},
"layer": [
{
"layer": [
{"data": {"name": "zones"}, "mark": {"type": "rect", "stroke": "#000000", "strokeWidth": 3},
 "encoding": {
 "x": {"datum": 5000, "type": "quantitative", "scale": {"domain": [5000, 20000], "nice": false, "zero": false}, "axis": {"orient": "top", "title": "Vint.ft/sec", "values": [5000,10000,15000,20000], "format": "d", "grid": false, "labelFontSize": 23, "labelPadding": 9, "titleFontSize": 23, "titleY": -67, "titleBaseline": "middle"}},
 "x2": {"datum": 20000},
 "y": {"field": "depth", "type": "quantitative", "scale": {"domain": [0, 19000], "nice": false, "reverse": true}, "axis": {"title": null, "values": [0,2000,4000,6000,8000,10000,12000,14000,16000,18000], "format": "d", "grid": false, "labelFontSize": 23, "labelPadding": 11}},
 "y2": {"field": "depth_end"},
 "color": {"field": "zone", "type": "nominal", "scale": {"domain": ["G","P1","P2","P3","P4"], "range": ["#efefef","#e4e8ee","#cdeefa","#c3dcee","#ffbdfd"]}, "legend": null}
 }},
{"data": {"values": [{"depth":2000},{"depth":4000},{"depth":6000},{"depth":8000},{"depth":10000},{"depth":12000},{"depth":14000},{"depth":16000},{"depth":18000}]}, "mark": {"type": "rule", "color": "#1a0a1a", "strokeWidth": 1.3},
 "encoding": {"y": {"field": "depth", "type": "quantitative", "scale": {"domain": [0, 19000], "nice": false, "reverse": true}, "axis": {"title": null, "values": [0,2000,4000,6000,8000,10000,12000,14000,16000,18000], "format": "d", "grid": false, "labelFontSize": 23, "labelPadding": 11}}}},
{"data": {"values": [{"vint":10000},{"vint":15000}]}, "mark": {"type": "rule", "color": "#1a0a1a", "strokeWidth": 1.3},
 "encoding": {"x": {"field": "vint", "type": "quantitative", "scale": {"domain": [5000, 20000], "nice": false, "zero": false}, "axis": {"orient": "top", "title": "Vint.ft/sec", "values": [5000,10000,15000,20000], "format": "d", "grid": false, "labelFontSize": 23, "labelPadding": 9, "titleFontSize": 23, "titleY": -67, "titleBaseline": "middle"}}}},
{"data": {"name": "dt_trend"}, "mark": {"type": "line", "color": "#150a15", "strokeWidth": 4},
 "encoding": {
 "x": {"field": "vint", "type": "quantitative", "scale": {"domain": [5000, 20000], "nice": false, "zero": false}, "axis": {"orient": "top", "title": "Vint.ft/sec", "values": [5000,10000,15000,20000], "format": "d", "grid": false, "labelFontSize": 23, "labelPadding": 9, "titleFontSize": 23, "titleY": -67, "titleBaseline": "middle"}},
 "y": {"field": "depth", "type": "quantitative", "scale": {"domain": [0, 19000], "nice": false, "reverse": true}, "axis": {"title": null, "values": [0,2000,4000,6000,8000,10000,12000,14000,16000,18000], "format": "d", "grid": false, "labelFontSize": 23, "labelPadding": 11}},
 "order": {"field": "depth", "type": "quantitative"}
 }},
{"data": {"name": "dt_pts"}, "mark": {"type": "point", "shape": "circle", "filled": true, "fill": "#6f7cff", "fillOpacity": 0.7, "strokeWidth": 2.4, "size": 240, "opacity": 1},
 "encoding": {
 "x": {"field": "vint", "type": "quantitative", "scale": {"domain": [5000, 20000], "nice": false, "zero": false}, "axis": {"orient": "top", "title": "Vint.ft/sec", "values": [5000,10000,15000,20000], "format": "d", "grid": false, "labelFontSize": 23, "labelPadding": 9, "titleFontSize": 23, "titleY": -67, "titleBaseline": "middle"}},
 "y": {"field": "depth", "type": "quantitative", "scale": {"domain": [0, 19000], "nice": false, "reverse": true}, "axis": {"title": null, "values": [0,2000,4000,6000,8000,10000,12000,14000,16000,18000], "format": "d", "grid": false, "labelFontSize": 23, "labelPadding": 11}},
 "stroke": {"condition": {"test": "datum.depth > 12170", "value": "#5a35f0"}, "value": "#2a3cf0"}
 }},
{"data": {"name": "right_text"}, "mark": {"type": "text", "font": "Open Sans", "fontWeight": "bold", "fontSize": 38, "color": "#111111"},
 "encoding": {
 "x": {"field": "vint", "type": "quantitative", "scale": {"domain": [5000, 20000], "nice": false, "zero": false}, "axis": {"orient": "top", "title": "Vint.ft/sec", "values": [5000,10000,15000,20000], "format": "d", "grid": false, "labelFontSize": 23, "labelPadding": 9, "titleFontSize": 23, "titleY": -67, "titleBaseline": "middle"}},
 "y": {"field": "depth", "type": "quantitative", "scale": {"domain": [0, 19000], "nice": false, "reverse": true}, "axis": {"title": null, "values": [0,2000,4000,6000,8000,10000,12000,14000,16000,18000], "format": "d", "grid": false, "labelFontSize": 23, "labelPadding": 11}},
 "text": {"field": "label"}
 }},
{"data": {"values": [{"label": "dT", "vint": 8710, "depth": 2490}]}, "mark": {"type": "text", "font": "Open Sans", "fontWeight": "bold", "fontSize": 42, "color": "#0000cc"},
 "encoding": {
 "x": {"field": "vint", "type": "quantitative", "scale": {"domain": [5000, 20000], "nice": false, "zero": false}, "axis": {"orient": "top", "title": "Vint.ft/sec", "values": [5000,10000,15000,20000], "format": "d", "grid": false, "labelFontSize": 23, "labelPadding": 9, "titleFontSize": 23, "titleY": -67, "titleBaseline": "middle"}},
 "y": {"field": "depth", "type": "quantitative", "scale": {"domain": [0, 19000], "nice": false, "reverse": true}, "axis": {"title": null, "values": [0,2000,4000,6000,8000,10000,12000,14000,16000,18000], "format": "d", "grid": false, "labelFontSize": 23, "labelPadding": 11}},
 "text": {"field": "label"}
 }},
{"data": {"values": [{"label": "rhob", "vint": 17240, "depth": 2490}]}, "mark": {"type": "text", "font": "Open Sans", "fontWeight": "bold", "fontSize": 42, "color": "#8fb0dc"},
 "encoding": {
 "x": {"field": "vint", "type": "quantitative", "scale": {"domain": [5000, 20000], "nice": false, "zero": false}, "axis": {"orient": "top", "title": "Vint.ft/sec", "values": [5000,10000,15000,20000], "format": "d", "grid": false, "labelFontSize": 23, "labelPadding": 9, "titleFontSize": 23, "titleY": -67, "titleBaseline": "middle"}},
 "y": {"field": "depth", "type": "quantitative", "scale": {"domain": [0, 19000], "nice": false, "reverse": true}, "axis": {"title": null, "values": [0,2000,4000,6000,8000,10000,12000,14000,16000,18000], "format": "d", "grid": false, "labelFontSize": 23, "labelPadding": 11}},
 "text": {"field": "label"}
 }}
]
},
{
"layer": [
{"data": {"name": "rhob_trend"}, "mark": {"type": "line", "color": "#228a22", "strokeWidth": 4.5},
 "encoding": {
 "x": {"field": "dens", "type": "quantitative", "scale": {"domain": [1, 3], "nice": false, "zero": false}, "axis": {"orient": "bottom", "title": "Density.G/C3", "values": [1,1.5,2,2.5,3], "format": ".1f", "grid": false, "labelFontSize": 23, "labelPadding": 9, "titleFontSize": 23, "titleY": 64, "titleBaseline": "middle"}},
 "y": {"field": "depth", "type": "quantitative", "scale": {"domain": [0, 19000], "nice": false, "reverse": true}, "axis": {"title": null, "values": [0,2000,4000,6000,8000,10000,12000,14000,16000,18000], "format": "d", "grid": false, "labelFontSize": 23, "labelPadding": 11}},
 "order": {"field": "n", "type": "quantitative"}
 }},
{"data": {"name": "rhob_pts"}, "mark": {"type": "point", "shape": "square", "filled": true, "size": 280, "opacity": 1},
 "encoding": {
 "x": {"field": "dens", "type": "quantitative", "scale": {"domain": [1, 3], "nice": false, "zero": false}, "axis": {"orient": "bottom", "title": "Density.G/C3", "values": [1,1.5,2,2.5,3], "format": ".1f", "grid": false, "labelFontSize": 23, "labelPadding": 9, "titleFontSize": 23, "titleY": 64, "titleBaseline": "middle"}},
 "y": {"field": "depth", "type": "quantitative", "scale": {"domain": [0, 19000], "nice": false, "reverse": true}, "axis": {"title": null, "values": [0,2000,4000,6000,8000,10000,12000,14000,16000,18000], "format": "d", "grid": false, "labelFontSize": 23, "labelPadding": 11}},
 "color": {"condition": [{"test": "datum.depth > 12170", "value": "#ab8ed2"}, {"test": "datum.depth > 6770", "value": "#78a3c8"}], "value": "#8b9cb4"}
 }},
{"data": {"name": "rhob_dark"}, "mark": {"type": "point", "shape": "circle", "filled": true, "size": 90, "opacity": 1, "color": "#3a0a34"},
 "encoding": {
 "x": {"field": "dens", "type": "quantitative", "scale": {"domain": [1, 3], "nice": false, "zero": false}, "axis": {"orient": "bottom", "title": "Density.G/C3", "values": [1,1.5,2,2.5,3], "format": ".1f", "grid": false, "labelFontSize": 23, "labelPadding": 9, "titleFontSize": 23, "titleY": 64, "titleBaseline": "middle"}},
 "y": {"field": "depth", "type": "quantitative", "scale": {"domain": [0, 19000], "nice": false, "reverse": true}, "axis": {"title": null, "values": [0,2000,4000,6000,8000,10000,12000,14000,16000,18000], "format": "d", "grid": false, "labelFontSize": 23, "labelPadding": 11}}
 }}
]
}
]
}
],
"spacing": -2,
"config": {
"font": "Liberation Sans",
"view": {"stroke": "#000000", "strokeWidth": 3},
"axis": {"domain": false, "grid": true, "gridColor": "#000000", "gridWidth": 1.6, "gridOpacity": 1, "tickColor": "#000000", "tickWidth": 1.6, "tickSize": 6, "labelFont": "Liberation Sans", "labelFontWeight": "bold", "labelColor": "#1c1c28", "titleFont": "Liberation Sans", "titleFontWeight": "bold", "titleColor": "#1c1c28", "labelOverlap": false, "labelFlush": false}
}
}
